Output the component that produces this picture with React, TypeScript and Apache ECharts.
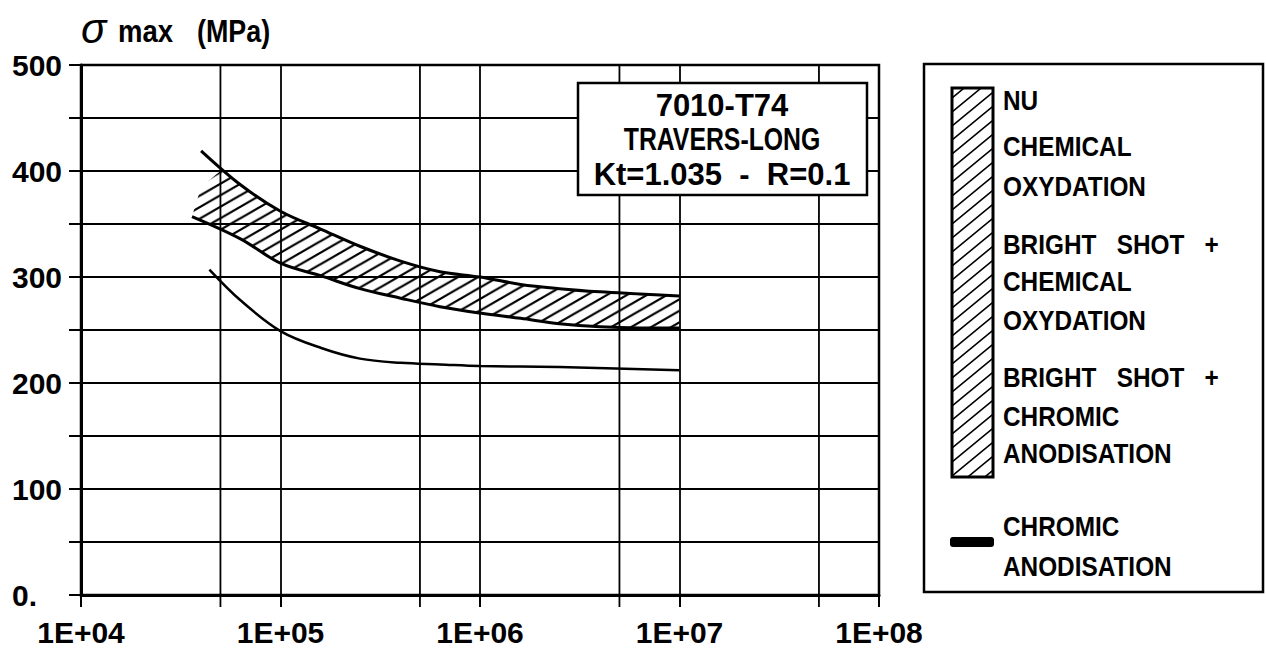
import React, { useEffect, useRef } from 'react';
import * as echarts from 'echarts';

// ---- data ---------------------------------------------------------------
// Number of cycles to failure (log axis) and maximum stress in MPa.
const cycleDecades = [1e4, 1e5, 1e6, 1e7, 1e8];
const halfDecadeRules = [5e4, 5e5, 5e6, 5e7];
const stressMax = 500;
const stressStep = 50;
const stressLabelStep = 100;

// Hatched scatter band (NU, chemical oxydation, bright shot variants)
const bandUpper: [number, number][] = [
  [4.0e4, 419], [6.3e4, 387], [1e5, 362], [1.6e5, 345], [2.5e5, 329], [4e5, 315],
  [6.3e5, 305], [1e6, 300], [1.6e6, 293], [2.5e6, 289], [4e6, 286], [6.3e6, 284], [1e7, 282],
];
const bandLower: [number, number][] = [
  [3.6e4, 357], [6.3e4, 336], [1e5, 313], [1.6e5, 301], [2.5e5, 289], [4e5, 280],
  [6.3e5, 272], [1e6, 266], [1.6e6, 261], [2.5e6, 256], [4e6, 253], [6.3e6, 252], [1e7, 252],
];
// left end of the hatching: it starts below the upper curve and meets it near 5E+04
const hatchCap: [number, number][] = [[4.0e4, 385], [5e4, 400]];

// Chromic anodisation curve
const chromic: [number, number][] = [
  [4.4e4, 307], [6.3e4, 278], [1e5, 249], [1.6e5, 233], [2.5e5, 223], [4e5, 219],
  [6.3e5, 217.5], [1e6, 216], [2.5e6, 215], [1e7, 212],
];

// ---- texts --------------------------------------------------------------
const titleSymbol = 'σ';
const titleWord = 'max';
const titleUnit = '(MPa)';
const noteLines = ['7010-T74', 'TRAVERS-LONG', 'Kt=1.035  -  R=0.1'];
const bandLegendLines = [
  'NU', 'CHEMICAL', 'OXYDATION', 'BRIGHT   SHOT   +', 'CHEMICAL', 'OXYDATION',
  'BRIGHT   SHOT   +', 'CHROMIC', 'ANODISATION',
];
const lineLegendLines = ['CHROMIC', 'ANODISATION'];

// ---- styling helpers ------------------------------------------------------
const FONT = '"Liberation Sans", Arial, sans-serif';

function hatchPattern(w: number, h: number, lw: number) {
  const svg =
    `<svg xmlns="http://www.w3.org/2000/svg" width="${w}" height="${h}">` +
    `<path d="M${-w},${h} L${w},${-h} M${-w},${2 * h} L${2 * w},${-h} M0,${2 * h} L${2 * w},0" ` +
    `stroke="#000" stroke-width="${lw}" fill="none"/></svg>`;
  return {
    image: 'data:image/svg+xml;charset=utf-8,' + encodeURIComponent(svg),
    repeat: 'repeat',
    imageWidth: w,
    imageHeight: h,
  };
}

function txt(text: string, x: number, y: number, font: string, align: string, scaleX = 1) {
  return {
    type: 'text',
    x,
    y,
    scaleX,
    z: 100,
    silent: true,
    style: {
      text,
      font,
      fill: '#000',
      align,
      textAlign: align,
      verticalAlign: 'middle',
      textVerticalAlign: 'middle',
    },
  };
}

export default function App() {
  const ref = useRef<HTMLDivElement>(null);

  useEffect(() => {
    if (!ref.current) return;
    const chart = echarts.init(ref.current, null, { renderer: 'svg' });

    const bandFill = hatchPattern(20, 11.5, 2.2);
    const legendFill = hatchPattern(17, 14, 1.6);
    const bandOutline = [...hatchCap, ...bandUpper.slice(1), ...bandLower.slice().reverse()];

    const axisText = { color: '#000', fontSize: 30, fontWeight: 'bold', fontFamily: FONT };

    // legend layout
    const bandLegendY = [100, 146.7, 186.7, 244, 281.7, 320, 377.5, 416, 453];
    const lineLegendY = [526.7, 566];
    const noteY = [105, 140, 174];
    const noteScale = [1, 0.8, 1];

    const graphic: any[] = [
      // axis title
      txt(titleSymbol, 81, 28, `italic 42px ${FONT}`, 'left'),
      txt(titleWord, 118, 30.6, `bold 32px ${FONT}`, 'left', 0.86),
      txt(titleUnit, 197, 30.6, `bold 32px ${FONT}`, 'left', 0.84),
      // specimen note box
      {
        type: 'rect',
        z: 99,
        shape: { x: 578, y: 83, width: 289, height: 112 },
        style: { fill: '#fff', stroke: '#000', lineWidth: 2.5 },
      },
      ...noteLines.map((t, i) => txt(t, 722, noteY[i], `bold 31px ${FONT}`, 'center', noteScale[i])),
      // legend frame
      {
        type: 'rect',
        z: 99,
        shape: { x: 924, y: 64, width: 339, height: 528 },
        style: { fill: '#fff', stroke: '#000', lineWidth: 2.5 },
      },
      {
        type: 'rect',
        z: 100,
        shape: { x: 952, y: 88, width: 41, height: 389 },
        style: { fill: legendFill, stroke: '#000', lineWidth: 3 },
      },
      {
        type: 'rect',
        z: 100,
        shape: { x: 950, y: 537, width: 44, height: 10, r: 3 },
        style: { fill: '#000' },
      },
      ...bandLegendLines.map((t, i) => txt(t, 1003, bandLegendY[i], `bold 28px ${FONT}`, 'left', 0.87)),
      ...lineLegendLines.map((t, i) => txt(t, 1003, lineLegendY[i], `bold 28px ${FONT}`, 'left', 0.87)),
    ];

    const curve = (name: string, data: [number, number][], width: number) => ({
      name,
      type: 'line',
      z: 3,
      data,
      smooth: 0.35,
      symbol: 'none',
      lineStyle: { color: '#000', width },
    });

    const option: any = {
      animation: false,
      backgroundColor: '#fff',
      grid: {
        left: 81,
        right: 387,
        top: 65,
        bottom: 59,
        show: true,
        borderColor: '#000',
        borderWidth: 2.5,
      },
      xAxis: {
        type: 'log',
        logBase: 10,
        min: cycleDecades[0],
        max: cycleDecades[cycleDecades.length - 1],
        splitNumber: cycleDecades.length - 1,
        axisLine: { show: true, lineStyle: { color: '#000', width: 3 } },
        axisTick: { show: true, inside: false, length: 12, lineStyle: { color: '#000', width: 2 } },
        axisLabel: {
          ...axisText,
          margin: 22,
          formatter: (v: number) => '1E+' + String(Math.round(Math.log10(v))).padStart(2, '0'),
        },
        splitLine: { show: true, lineStyle: { color: '#000', width: 1.8 } },
      },
      yAxis: {
        type: 'value',
        min: 0,
        max: stressMax,
        interval: stressStep,
        axisLine: { show: true, lineStyle: { color: '#000', width: 3 } },
        axisTick: { show: true, inside: false, length: 12, lineStyle: { color: '#000', width: 2 } },
        axisLabel: {
          ...axisText,
          align: 'left',
          margin: 69,
          formatter: (v: number) =>
            v % stressLabelStep === 0 ? (v === 0 ? '0.' : String(v)) : '',
        },
        splitLine: { show: true, lineStyle: { color: '#000', width: 1.8 } },
      },
      series: [
        {
          name: 'half-decade rules',
          type: 'custom',
          z: 1,
          clip: false,
          silent: true,
          data: halfDecadeRules.map((n) => [n, 0]),
          renderItem: (_params: any, api: any) => {
            const n = api.value(0);
            const top = api.coord([n, stressMax]);
            const bottom = api.coord([n, 0]);
            return {
              type: 'line',
              shape: { x1: top[0], y1: top[1], x2: bottom[0], y2: bottom[1] + 12 },
              style: { stroke: '#000', lineWidth: 1.8 },
            };
          },
        },
        {
          name: 'hatched band',
          type: 'custom',
          z: 2,
          silent: true,
          data: bandOutline,
          renderItem: (params: any, api: any) => {
            if (params.dataIndex !== 0) return null;
            return {
              type: 'polygon',
              shape: { points: bandOutline.map((p) => api.coord(p)) },
              style: { fill: bandFill, stroke: 'none' },
            };
          },
        },
        curve('band upper bound', bandUpper, 3),
        curve('band lower bound', bandLower, 3),
        curve('CHROMIC ANODISATION', chromic, 2.5),
      ],
      graphic,
    };

    chart.setOption(option);
    return () => chart.dispose();
  }, []);

  return (
    <div
      ref={ref}
      style={{ position: 'fixed', left: 0, top: 0, width: 1266, height: 654, background: '#fff' }}
    />
  );
}
